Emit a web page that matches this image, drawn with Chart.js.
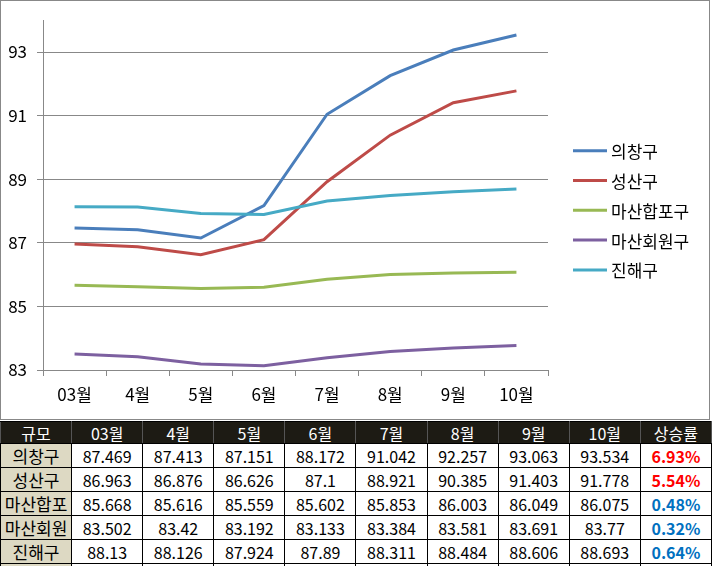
<!DOCTYPE html>
<html><head><meta charset="utf-8">
<script src="https://cdn.jsdelivr.net/npm/chart.js@4"></script>
<style>
html,body{margin:0;padding:0;background:#fff;width:712px;height:566px;overflow:hidden;}
#c{position:absolute;left:0;top:0;}
#tbl{position:absolute;left:0;top:421px;width:712px;border-collapse:collapse;table-layout:fixed;font-family:"Noto Sans CJK KR","Noto Sans",sans-serif;}
#tbl td,#tbl th{padding:0;text-align:center;border:1px solid #000;font-size:16px;font-weight:normal;overflow:hidden;white-space:nowrap;line-height:18px;color:#000;}
#tbl thead tr{height:22px;}
#tbl thead th{background:#1d1b14;color:#fff;font-size:16px;border-left-color:#555;border-right-color:#555;}
#tbl tbody tr{height:24px;}
#tbl tbody td.lab{background:#ddd9c3;font-size:17px;}
#tbl td.rate{font-weight:bold;font-size:16px;}
</style>
</head><body>
<canvas id="c" width="712" height="421"></canvas>
<table id="tbl"><thead><tr id="hdr"></tr></thead><tbody id="body"></tbody></table>
<script>
const months = ['03월','4월','5월','6월','7월','8월','9월','10월'];
const seriesNames = ['의창구','성산구','마산합포구','마산회원구','진해구'];
const rowLabels = ['의창구','성산구','마산합포','마산회원','진해구'];
const uichang = [87.469,87.413,87.151,88.172,91.042,92.257,93.063,93.534];
const seongsan = [86.963,86.876,86.626,87.1,88.921,90.385,91.403,91.778];
const masanHappo = [85.668,85.616,85.559,85.602,85.853,86.003,86.049,86.075];
const masanHoewon = [83.502,83.42,83.192,83.133,83.384,83.581,83.691,83.77];
const jinhae = [88.13,88.126,87.924,87.89,88.311,88.484,88.606,88.693];
const riseRates = ['6.93%','5.54%','0.48%','0.32%','0.64%'];
const yTicks = [83,85,87,89,91,93];
const firstHeader = '규모';
const lastHeader = '상승률';

const seriesValues = [uichang, seongsan, masanHappo, masanHoewon, jinhae];
const colors = ['#4a7ebb','#be4b48','#98b954','#7d60a0','#46aac5'];
const FONT = '"Noto Sans CJK KR","Noto Sans",sans-serif';

// table
const hdr = document.getElementById('hdr');
[firstHeader, ...months, lastHeader].forEach(t=>{const th=document.createElement('th');th.textContent=t;hdr.appendChild(th);});
const body = document.getElementById('body');
rowLabels.forEach((lab,i)=>{
  const tr=document.createElement('tr');
  const td0=document.createElement('td');td0.className='lab';td0.textContent=lab;tr.appendChild(td0);
  seriesValues[i].forEach(v=>{const td=document.createElement('td');td.textContent=String(v);tr.appendChild(td);});
  const tr2=document.createElement('td');tr2.className='rate';tr2.textContent=riseRates[i];
  tr2.style.color = parseFloat(riseRates[i])>=1 ? '#ff0000' : '#0070c0';
  tr.appendChild(tr2);
  body.appendChild(tr);
});
{ const tr=document.createElement('tr');
  for(let k=0;k<10;k++){const td=document.createElement('td');if(k===0)td.className='lab';td.innerHTML='&nbsp;';tr.appendChild(td);}
  body.appendChild(tr); }

const borderPlugin = {
  id:'frame',
  beforeDraw(chart){
    const ctx=chart.ctx; ctx.save();
    ctx.fillStyle='#fff'; ctx.fillRect(0,0,chart.width,chart.height);
    ctx.strokeStyle='#888'; ctx.lineWidth=1;
    ctx.strokeRect(0.5,0.5,709,419);
    ctx.restore();
  }
};
const legendPlugin = {
  id:'customLegend',
  afterDraw(chart){
    const ctx=chart.ctx; ctx.save();
    const x0 = chart.chartArea.right + 25;
    chart.data.datasets.forEach((ds,i)=>{
      const y = 150.7 + i*29.8;
      ctx.strokeStyle=ds.borderColor; ctx.lineWidth=3;
      ctx.beginPath(); ctx.moveTo(x0,y); ctx.lineTo(x0+34,y); ctx.stroke();
      ctx.fillStyle='#000'; ctx.font='17px '+FONT; ctx.textBaseline='middle'; ctx.textAlign='left';
      ctx.fillText(ds.label, x0+38, y+1);
    });
    ctx.restore();
  }
};

new Chart(document.getElementById('c'), {
  type:'line',
  data:{
    labels: months,
    datasets: seriesNames.map((n,i)=>({
      label:n, data:seriesValues[i], borderColor:colors[i], backgroundColor:colors[i],
      borderWidth:3, pointRadius:0, tension:0, fill:false, order:5-i
    }))
  },
  options:{
    responsive:false, animation:false, devicePixelRatio:1,
    layout:{padding:{left:0,right:164,top:19,bottom:0}},
    plugins:{legend:{display:false}, tooltip:{enabled:false}},
    scales:{
      x:{
        offset:true,
        grid:{offset:true, drawOnChartArea:false, drawTicks:true, tickLength:6, color:'#888'},
        border:{display:true,color:'#888'},
        ticks:{font:{family:FONT,size:17}, color:'#000', padding:8, maxRotation:0},
        afterFit(s){ s.height = 51; }
      },
      y:{
        min:83, max:94,
        grid:{color:'#888', tickLength:6, drawTicks:true},
        border:{display:true,color:'#888'},
        ticks:{font:{family:FONT,size:17}, color:'#000', padding:10},
        afterBuildTicks(s){ s.ticks = yTicks.map(v=>({value:v})); },
        afterFit(s){ s.width = 43; }
      }
    }
  },
  plugins:[borderPlugin, legendPlugin]
});
</script>
</body></html>
